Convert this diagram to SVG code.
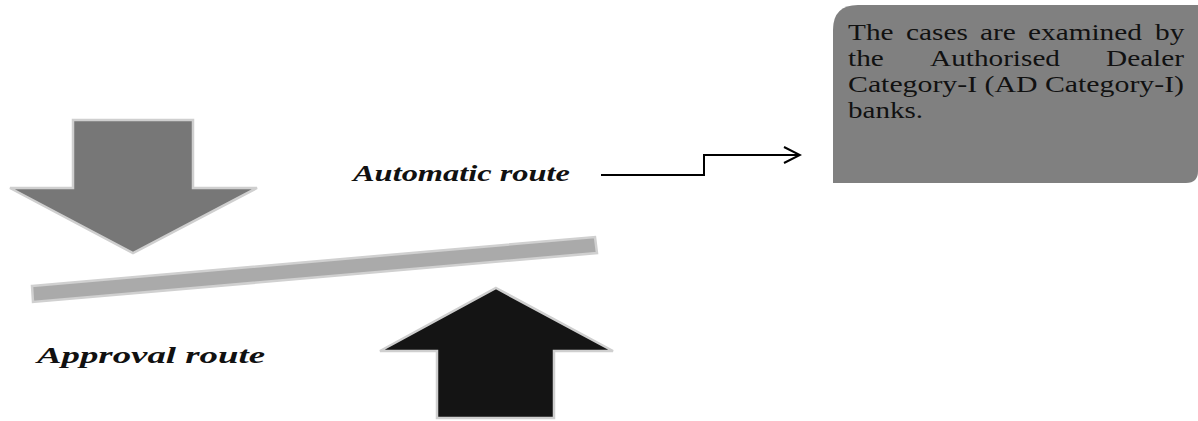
<svg xmlns="http://www.w3.org/2000/svg" width="1198" height="421" viewBox="0 0 1198 421">
<defs>
<style>
.arrowshape{stroke:#cfcfcf;stroke-width:2.5;stroke-linejoin:miter}
.label{font-family:"Liberation Serif",serif;font-style:italic;font-weight:bold;font-size:23px;fill:#111}
.boxtext{font-family:"Liberation Serif",serif;font-size:24px;fill:#111}
.conn{fill:none;stroke:#000;stroke-width:2}
</style>
<marker id="open" viewBox="0 0 20 20" refX="18" refY="10" markerWidth="20" markerHeight="20" markerUnits="userSpaceOnUse" orient="auto">
<polyline points="2,2 18,10 2,18" fill="none" stroke="#000" stroke-width="2"/>
</marker>
</defs>
<rect width="1198" height="421" fill="#fff"/>
<g id="down-arrow">
<polygon class="arrowshape" fill="#777777" points="73,120 193,120 193,188 257,188 133,253 10,188 73,188"/>
</g>
<g id="lever">
<polygon fill="#aaaaaa" stroke="#d0d0d0" stroke-width="2.5" points="32,286 595,237 597,253 33,302"/>
</g>
<g id="up-arrow">
<polygon class="arrowshape" fill="#141414" points="496,288 613,351 554,351 554,418 437,418 437,351 380,351"/>
</g>
<g id="automatic-label">
<text class="label" x="353" y="181" textLength="217" lengthAdjust="spacingAndGlyphs">Automatic route</text>
</g>
<g id="approval-label">
<text class="label" x="37" y="363" textLength="228" lengthAdjust="spacingAndGlyphs">Approval route</text>
</g>
<g id="connectors">
<polyline class="conn" points="601,175 704,175 704,155 800,155" marker-end="url(#open)"/>
</g>
<g id="ad-box">
<path fill="#808080" d="M858,5 H1198 V171 Q1198,183 1186,183 H833 V30 Q833,5 858,5 Z"/>
<text class="boxtext" x="848" y="40" textLength="45.5" lengthAdjust="spacingAndGlyphs">The</text>
<text class="boxtext" x="906" y="40" textLength="61.8" lengthAdjust="spacingAndGlyphs">cases</text>
<text class="boxtext" x="980" y="40" textLength="35.8" lengthAdjust="spacingAndGlyphs">are</text>
<text class="boxtext" x="1028" y="40" textLength="113.9" lengthAdjust="spacingAndGlyphs">examined</text>
<text class="boxtext" x="1155" y="40" textLength="29.3" lengthAdjust="spacingAndGlyphs">by</text>
<text class="boxtext" x="848" y="66" textLength="35.8" lengthAdjust="spacingAndGlyphs">the</text>
<text class="boxtext" x="930" y="66" textLength="130" lengthAdjust="spacingAndGlyphs">Authorised</text>
<text class="boxtext" x="1106" y="66" textLength="78" lengthAdjust="spacingAndGlyphs">Dealer</text>
<text class="boxtext" x="848" y="92" textLength="336" lengthAdjust="spacingAndGlyphs">Category-I (AD Category-I)</text>
<text class="boxtext" x="848" y="118" textLength="75" lengthAdjust="spacingAndGlyphs">banks.</text>
</g>
</svg>
